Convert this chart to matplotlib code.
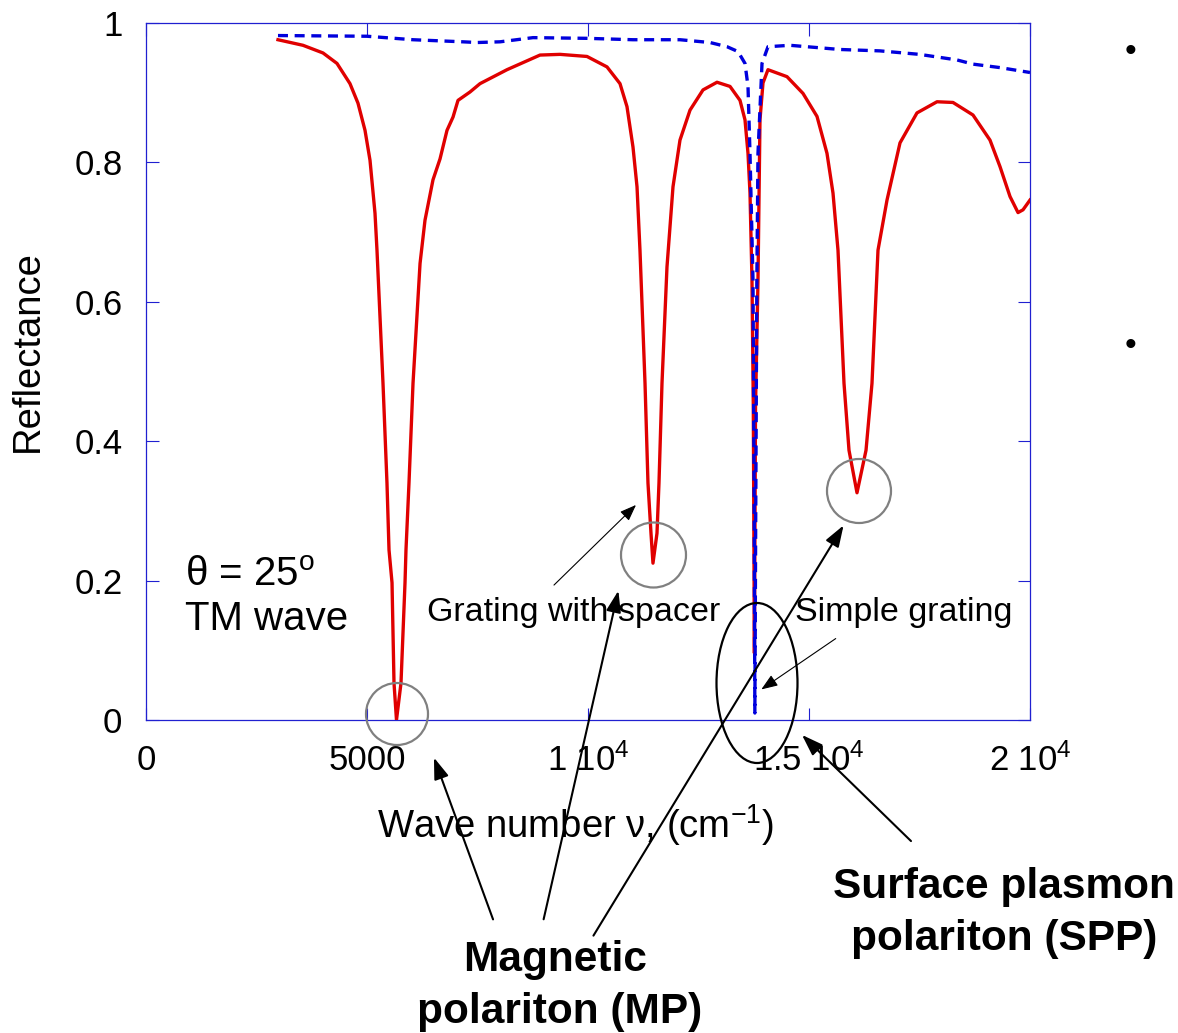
import numpy as np
import matplotlib
matplotlib.use('Agg')
import matplotlib.pyplot as plt
from matplotlib.patches import Ellipse

plt.rcParams['font.family'] = ['Liberation Sans', 'DejaVu Sans']
plt.rcParams['mathtext.fontset'] = 'custom'
plt.rcParams['mathtext.rm'] = 'Liberation Sans'
plt.rcParams['mathtext.it'] = 'Liberation Sans:italic'
plt.rcParams['mathtext.bf'] = 'Liberation Sans:bold'

# grating with spacer (red solid)
spacer_nu = [2986, 3552, 4005, 4321, 4615, 4796, 4955, 5068, 5181, 5226, 5362, 5452,
             5498, 5566, 5611, 5667, 5769, 5860, 5882, 5950, 6041, 6200, 6312, 6493,
             6652, 6810, 6946, 7059, 7330, 7557, 8167, 8914, 9367, 9977, 10430, 10724,
             10882, 11018, 11109, 11176, 11290, 11357, 11425, 11470, 11561, 11606, 11674,
             11787, 11923, 12081, 12308, 12602, 12919, 13213, 13439, 13552, 13620, 13665,
             13710, 13740, 13765, 13790, 13846, 13891, 13959, 14072, 14502, 14864, 15181,
             15407, 15543, 15656, 15792, 15905, 16086, 16290, 16425, 16561, 16765, 17059,
             17443, 17896, 18258, 18710, 19095, 19321, 19548, 19729, 19842, 20000]
spacer_R = [0.976, 0.968, 0.957, 0.942, 0.913, 0.885, 0.846, 0.803, 0.727, 0.674, 0.483, 0.340,
            0.244, 0.197, 0.053, 0.000, 0.053, 0.197, 0.244, 0.340, 0.483, 0.655, 0.717, 0.775,
            0.805, 0.846, 0.865, 0.889, 0.901, 0.913, 0.933, 0.954, 0.955, 0.952, 0.937, 0.913,
            0.880, 0.822, 0.765, 0.674, 0.483, 0.340, 0.268, 0.225, 0.268, 0.340, 0.483,
            0.650, 0.765, 0.832, 0.875, 0.904, 0.915, 0.909, 0.889, 0.861, 0.813, 0.756,
            0.631, 0.45, 0.096, 0.45, 0.631, 0.861, 0.914, 0.933, 0.923, 0.899, 0.866,
            0.813, 0.756, 0.674, 0.483, 0.387, 0.326, 0.387, 0.483, 0.674, 0.746, 0.828,
            0.871, 0.887, 0.886, 0.868, 0.832, 0.794, 0.751, 0.728, 0.732, 0.746]

# simple grating (blue dashed)
simple_nu = [2986, 5000, 6040, 7172, 7489, 8009, 8756, 9977, 11018, 12081, 12760, 13145,
             13394, 13552, 13620, 13665, 13733, 13760, 13775, 13795, 13820, 13846, 13937,
             14072, 14570, 15701, 16606, 17500, 18348, 18710, 19321, 20000]
simple_R = [0.982, 0.981, 0.976, 0.973, 0.972, 0.973, 0.979, 0.978, 0.976, 0.976, 0.972, 0.966,
            0.959, 0.942, 0.909, 0.813, 0.631, 0.30, 0.01, 0.30, 0.631, 0.813, 0.942,
            0.966, 0.968, 0.962, 0.960, 0.955, 0.947, 0.941, 0.936, 0.929]

x_ticks = [0, 5000, 10000, 15000, 20000]
x_labels = ['0', '5000', '1 10$^4$', '1.5 10$^4$', '2 10$^4$']
y_ticks = [0, 0.2, 0.4, 0.6, 0.8, 1]
y_labels = ['0', '0.2', '0.4', '0.6', '0.8', '1']

W, H = 1178, 1033
fig = plt.figure(figsize=(W / 100, H / 100), dpi=100)
ax = fig.add_axes([146 / W, 1 - 720 / H, 884 / W, 697 / H])

ax.plot(spacer_nu, spacer_R, color='#E00000', lw=2.4, zorder=3)
ax.plot(simple_nu, simple_R, color='#0000DD', lw=2.4, dashes=(3, 2), zorder=4)

ax.set_xlim(0, 20000)
ax.set_ylim(0, 1)
ax.set_xticks(x_ticks)
ax.set_xticklabels(x_labels)
ax.set_yticks(y_ticks)
ax.set_yticklabels(y_labels)
for s in ax.spines.values():
    s.set_color('#2020D0')
    s.set_linewidth(0.9)
ax.tick_params(direction='in', length=9, width=0.8, color='#2020D0',
               top=True, right=True, labelsize=25, pad=17)

fig.text(28 / W, 1 - 351 / H, 'Reflectance', rotation=90, fontsize=27.5,
         ha='center', va='center')
fig.text(576 / W, 1 - 825 / H, 'Wave number ν, (cm$^{-1}$)', fontsize=27.5,
         ha='center', va='center')


def px(x, y):
    # figure pixel (from top-left) -> data coords of ax
    return ((x - 146) / 884 * 20000, (720 - y) / 697)


# circles around dips
for cx, cy, r in [(397, 714, 31), (653.5, 555, 32.5), (859, 491, 32)]:
    c = px(cx, cy)
    ax.add_patch(Ellipse(c, 2 * r / 884 * 20000, 2 * r / 697, fill=False,
                         ec='#808080', lw=1.6, clip_on=False, zorder=5))
c = px(757, 683)
ax.add_patch(Ellipse(c, 81 / 884 * 20000, 160 / 697, fill=False, ec='black',
                     lw=1.6, clip_on=False, zorder=5))

thin = dict(arrowstyle='-|>,head_length=1.0,head_width=0.38', color='black', lw=0.8)
bold = dict(arrowstyle='-|>,head_length=1.3,head_width=0.45', color='black', lw=1.5)
arrows = [((552, 587), (638, 503), thin),
          ((838, 637), (759, 691), thin),
          ((494, 922), (433, 755), bold),
          ((543, 922), (619, 588), bold),
          ((592, 938), (845, 523), bold),
          ((913, 843), (800, 733), bold)]
for tail, head, st in arrows:
    ax.annotate('', xy=px(*head), xytext=px(*tail), arrowprops=st,
                annotation_clip=False, zorder=6)

ax.text(*px(185, 586), 'θ = 25$^{\\rm o}$', fontsize=29, ha='left', va='baseline')
ax.text(*px(185, 630), 'TM wave', fontsize=29, ha='left', va='baseline')
ax.text(*px(427, 612), 'Grating with spacer', fontsize=24.5, ha='left', va='center')
ax.text(*px(795, 613), 'Simple grating', fontsize=24.5, ha='left', va='center')

fig.text(555 / W, 1 - 960 / H, 'Magnetic', fontsize=30.5, fontweight='bold',
         ha='center', va='center')
fig.text(560 / W, 1 - 1012 / H, 'polariton (MP)', fontsize=30.5, fontweight='bold',
         ha='center', va='center')
fig.text(1004 / W, 1 - 887 / H, 'Surface plasmon', fontsize=30.5, fontweight='bold',
         ha='center', va='center')
fig.text(1004 / W, 1 - 939 / H, 'polariton (SPP)', fontsize=30.5, fontweight='bold',
         ha='center', va='center')
fig.text(1130 / W, 1 - 53 / H, '•', fontsize=24, ha='center', va='center')
fig.text(1130 / W, 1 - 347 / H, '•', fontsize=24, ha='center', va='center')

fig.savefig('out.png', dpi=100)
